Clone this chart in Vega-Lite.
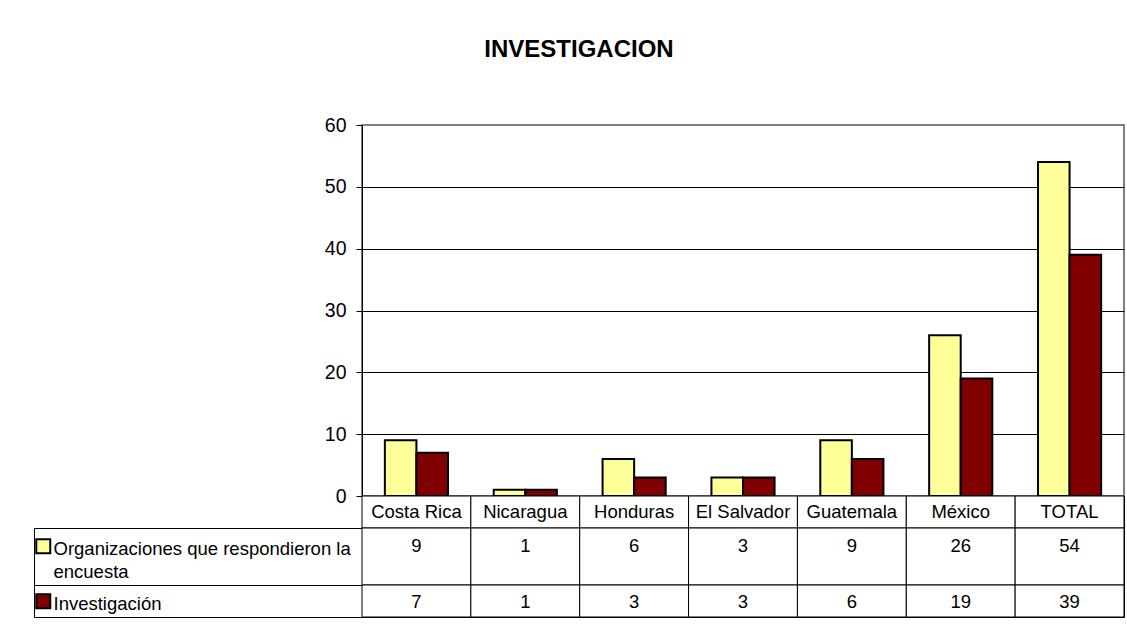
{
  "$schema": "https://vega.github.io/schema/vega-lite/v6.json",
  "background": "white",
  "padding": {"left": 33, "top": 38, "right": 0, "bottom": 5},
  "title": {"text": "INVESTIGACION", "font": "Liberation Sans", "fontSize": 24, "fontWeight": "bold", "color": "black", "anchor": "middle", "offset": 52},
  "datasets": {
    "d": [
      {"pais": "Costa Rica", "serie": "Organizaciones que respondieron la encuesta", "valor": 9},
      {"pais": "Costa Rica", "serie": "Investigación", "valor": 7},
      {"pais": "Nicaragua", "serie": "Organizaciones que respondieron la encuesta", "valor": 1},
      {"pais": "Nicaragua", "serie": "Investigación", "valor": 1},
      {"pais": "Honduras", "serie": "Organizaciones que respondieron la encuesta", "valor": 6},
      {"pais": "Honduras", "serie": "Investigación", "valor": 3},
      {"pais": "El Salvador", "serie": "Organizaciones que respondieron la encuesta", "valor": 3},
      {"pais": "El Salvador", "serie": "Investigación", "valor": 3},
      {"pais": "Guatemala", "serie": "Organizaciones que respondieron la encuesta", "valor": 9},
      {"pais": "Guatemala", "serie": "Investigación", "valor": 6},
      {"pais": "México", "serie": "Organizaciones que respondieron la encuesta", "valor": 26},
      {"pais": "México", "serie": "Investigación", "valor": 19},
      {"pais": "TOTAL", "serie": "Organizaciones que respondieron la encuesta", "valor": 54},
      {"pais": "TOTAL", "serie": "Investigación", "valor": 39}
    ]
  },
  "columns": 2,
  "spacing": 0,
  "bounds": "flush",
  "align": "each",
  "resolve": {"scale": {"x": "independent", "y": "independent", "color": "independent", "xOffset": "independent"}},
  "config": {
    "font": "Liberation Sans",
    "view": {"stroke": null},
    "text": {"font": "Liberation Sans", "fontSize": 18.5, "color": "black"}
  },
  "concat": [
    {
      "width": 328, "height": 371,
      "data": {"values": []},
      "mark": "text"
    },
    {
      "width": 762, "height": 371,
      "data": {"name": "d"},
      "view": {"stroke": "#808080", "strokeWidth": 2},
      "mark": {"type": "bar", "stroke": "black", "strokeWidth": 2},
      "encoding": {
        "x": {"field": "pais", "type": "nominal", "sort": ["Costa Rica", "Nicaragua", "Honduras", "El Salvador", "Guatemala", "México", "TOTAL"], "scale": {"paddingInner": 0.42, "paddingOuter": 0.21}, "axis": null},
        "xOffset": {"field": "serie", "type": "nominal", "sort": ["Organizaciones que respondieron la encuesta", "Investigación"], "scale": {"paddingInner": 0, "paddingOuter": 0}},
        "y": {
          "field": "valor", "type": "quantitative",
          "scale": {"domain": [0, 60], "nice": false},
          "axis": {
            "values": [0, 10, 20, 30, 40, 50, 60], "title": null,
            "labelFont": "Liberation Sans", "labelFontSize": 19.5, "labelColor": "black", "labelPadding": 10,
            "tickColor": "black", "tickSize": 6, "tickWidth": 1,
            "domainColor": "black", "domainWidth": 1,
            "grid": true, "gridWidth": 1,
            "gridColor": {"condition": {"test": "datum.value === 60", "value": "#808080"}, "value": "#000000"}
          }
        },
        "color": {
          "field": "serie", "type": "nominal",
          "scale": {"domain": ["Organizaciones que respondieron la encuesta", "Investigación"], "range": ["#FFFF99", "#800000"]},
          "legend": {
            "orient": "none", "legendX": -328, "legendY": 412, "title": null, "padding": 0,
            "direction": "vertical",
            "symbolType": "square", "symbolSize": 196, "symbolStrokeColor": "black", "symbolStrokeWidth": 2, "symbolOpacity": 1,
            "labelFont": "Liberation Sans", "labelFontSize": 18.5, "labelColor": "black", "labelLimit": 400, "labelOffset": 1,
            "labelBaseline": "alphabetic", "rowPadding": 8,
            "labelExpr": "datum.label == 'Investigación' ? datum.label : ['Organizaciones que respondieron la', 'encuesta']",
            "encode": {"labels": {"update": {"dy": {"value": 9}, "lineHeight": {"value": 23}}}}
          }
        }
      }
    },
    {
      "width": 328, "height": 32,
      "data": {"values": []},
      "mark": "text"
    },
    {
      "width": 762, "height": 32,
      "data": {"name": "d"},
      "transform": [{"filter": "datum.serie == 'Investigación'"}],
      "view": {"stroke": "black", "strokeWidth": 1},
      "encoding": {
        "x": {"field": "pais", "type": "nominal", "sort": ["Costa Rica", "Nicaragua", "Honduras", "El Salvador", "Guatemala", "México", "TOTAL"], "scale": {"paddingInner": 0, "paddingOuter": 0}, "axis": null}
      },
      "layer": [
        {"mark": {"type": "bar", "fill": "white", "stroke": "black", "strokeWidth": 1}},
        {"mark": {"type": "text", "baseline": "middle"}, "encoding": {"text": {"field": "pais"}}}
      ]
    },
    {
      "width": 328, "height": 57,
      "data": {"values": []},
      "view": {"stroke": "black", "strokeWidth": 1},
      "mark": "text"
    },
    {
      "width": 762, "height": 57,
      "data": {"name": "d"},
      "transform": [{"filter": "datum.serie == 'Organizaciones que respondieron la encuesta'"}],
      "view": {"stroke": "black", "strokeWidth": 1},
      "encoding": {
        "x": {"field": "pais", "type": "nominal", "sort": ["Costa Rica", "Nicaragua", "Honduras", "El Salvador", "Guatemala", "México", "TOTAL"], "scale": {"paddingInner": 0, "paddingOuter": 0}, "axis": null}
      },
      "layer": [
        {"mark": {"type": "bar", "fill": "white", "stroke": "black", "strokeWidth": 1}},
        {"mark": {"type": "text", "baseline": "middle", "dy": -11}, "encoding": {"text": {"field": "valor", "type": "quantitative"}}}
      ]
    },
    {
      "width": 328, "height": 32,
      "data": {"values": []},
      "view": {"stroke": "black", "strokeWidth": 1},
      "mark": "text"
    },
    {
      "width": 762, "height": 32,
      "data": {"name": "d"},
      "transform": [{"filter": "datum.serie == 'Investigación'"}],
      "view": {"stroke": "black", "strokeWidth": 1},
      "encoding": {
        "x": {"field": "pais", "type": "nominal", "sort": ["Costa Rica", "Nicaragua", "Honduras", "El Salvador", "Guatemala", "México", "TOTAL"], "scale": {"paddingInner": 0, "paddingOuter": 0}, "axis": null}
      },
      "layer": [
        {"mark": {"type": "bar", "fill": "white", "stroke": "black", "strokeWidth": 1}},
        {"mark": {"type": "text", "baseline": "middle", "dy": 1}, "encoding": {"text": {"field": "valor", "type": "quantitative"}}}
      ]
    }
  ]
}
